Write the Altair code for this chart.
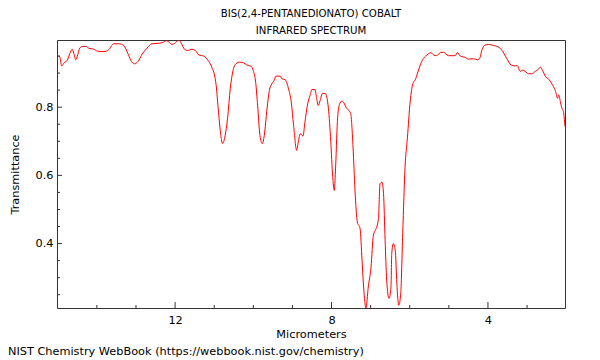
import altair as alt
import pandas as pd

# ---- data ----
wavelength_um = [
    15.02, 14.95, 14.90, 14.83, 14.76, 14.69, 14.63, 14.59, 14.54, 14.49,
    14.44, 14.37, 14.27, 14.21, 14.08, 13.98, 13.82, 13.70, 13.57, 13.44,
    13.31, 13.21, 13.13, 13.04, 12.95, 12.84, 12.72, 12.59, 12.46, 12.33,
    12.22, 12.16, 12.08, 11.99, 11.91, 11.85, 11.76, 11.68, 11.57, 11.48,
    11.39, 11.27, 11.14, 11.10, 11.05, 11.00, 10.95, 10.89, 10.83, 10.79,
    10.72, 10.66, 10.59, 10.52, 10.47, 10.36, 10.25, 10.17, 10.06, 10.00,
    9.94, 9.89, 9.83, 9.77, 9.72, 9.65, 9.59, 9.53, 9.47, 9.42,
    9.31, 9.27, 9.19, 9.10, 9.03, 8.97, 8.89, 8.85, 8.80, 8.73,
    8.68, 8.61, 8.55, 8.50, 8.42, 8.38, 8.34, 8.29, 8.23, 8.16,
    8.08, 8.02, 7.97, 7.93, 7.90, 7.85, 7.80, 7.74, 7.68, 7.63,
    7.57, 7.51, 7.45, 7.40, 7.34, 7.27, 7.22, 7.18, 7.12, 7.06,
    6.99, 6.93, 6.86, 6.80, 6.76, 6.71, 6.67, 6.63, 6.59, 6.53,
    6.48, 6.46, 6.42, 6.37, 6.33, 6.28, 6.23, 6.18, 6.12, 6.06,
    5.99, 5.92, 5.86, 5.80, 5.73, 5.65, 5.56, 5.46, 5.39, 5.31,
    5.22, 5.14, 5.01, 4.84, 4.78, 4.71, 4.58, 4.50, 4.37, 4.27,
    4.20, 4.16, 4.07, 3.99, 3.86, 3.71, 3.62, 3.52, 3.41, 3.30,
    3.25, 3.18, 3.11, 3.05, 2.96, 2.88, 2.79, 2.73, 2.66, 2.60,
    2.54, 2.43, 2.34, 2.27, 2.22, 2.19, 2.15, 2.11, 2.07, 2.03,
]
transmittance = [
    0.950, 0.948, 0.921, 0.931, 0.937, 0.958, 0.970, 0.958, 0.939, 0.953,
    0.973, 0.978, 0.978, 0.973, 0.970, 0.964, 0.963, 0.968, 0.986, 0.986,
    0.980, 0.958, 0.937, 0.927, 0.934, 0.956, 0.973, 0.986, 0.987, 0.989,
    0.995, 0.991, 0.984, 0.989, 0.997, 0.989, 0.970, 0.966, 0.970, 0.966,
    0.953, 0.950, 0.934, 0.927, 0.914, 0.898, 0.864, 0.785, 0.717, 0.693,
    0.717, 0.766, 0.854, 0.907, 0.924, 0.932, 0.930, 0.924, 0.920, 0.907,
    0.873, 0.805, 0.717, 0.693, 0.717, 0.795, 0.849, 0.868, 0.878, 0.891,
    0.891, 0.883, 0.881, 0.854, 0.815, 0.746, 0.673, 0.698, 0.722, 0.715,
    0.756, 0.810, 0.834, 0.852, 0.851, 0.825, 0.805, 0.820, 0.841, 0.840,
    0.797, 0.700, 0.597, 0.556, 0.612, 0.758, 0.807, 0.818, 0.812, 0.800,
    0.792, 0.781, 0.683, 0.556, 0.463, 0.444, 0.351, 0.273, 0.211, 0.273,
    0.331, 0.424, 0.444, 0.473, 0.576, 0.580, 0.546, 0.410, 0.293, 0.239,
    0.273, 0.371, 0.400, 0.380, 0.283, 0.219, 0.254, 0.429, 0.624, 0.710,
    0.815, 0.869, 0.880, 0.900, 0.924, 0.943, 0.953, 0.960, 0.953, 0.951,
    0.960, 0.961, 0.951, 0.951, 0.960, 0.950, 0.946, 0.941, 0.942, 0.939,
    0.946, 0.966, 0.982, 0.984, 0.981, 0.975, 0.963, 0.943, 0.924, 0.921,
    0.922, 0.905, 0.909, 0.905, 0.898, 0.898, 0.905, 0.909, 0.917, 0.907,
    0.892, 0.880, 0.863, 0.846, 0.826, 0.836, 0.817, 0.797, 0.787, 0.743,
]
x_major = [12, 8, 4]
x_minor = [14, 13, 11, 10, 9, 7, 6, 5, 3]
y_major = [0.4, 0.6, 0.8]
y_minor = [0.25, 0.3, 0.35, 0.45, 0.5, 0.55, 0.65, 0.7, 0.75, 0.85, 0.9, 0.95]
title_lines = ["BIS(2,4-PENTANEDIONATO) COBALT", "INFRARED SPECTRUM"]
x_title = "Micrometers"
y_title = "Transmittance"
footer = ["NIST Chemistry WebBook (https://webbook.nist.gov/chemistry)"]

W, H = 508, 268
FONT = "DejaVu Sans"
FS = 11.3
AX = "#333333"

xs = alt.Scale(domain=[2.03, 15.02], reverse=True, nice=False, zero=False)
ys = alt.Scale(domain=[0.211, 0.997], nice=False, zero=False)

x_axis = alt.Axis(
    values=x_major, ticks=False, domain=False, grid=False,
    labelFont=FONT, labelFontSize=FS, labelColor="black",
    labelBaseline="alphabetic", labelPadding=15,
    title=x_title, titleFont=FONT, titleFontSize=FS, titleFontWeight="normal",
    titleColor="black", titleBaseline="alphabetic", titleY=29)
y_axis = alt.Axis(
    values=y_major, ticks=False, domain=False, grid=False, format=".1f",
    labelFont=FONT, labelFontSize=FS, labelColor="black", labelPadding=4,
    title=y_title, titleFont=FONT, titleFontSize=FS, titleFontWeight="normal",
    titleColor="black", titleBaseline="alphabetic", titleX=-39)

spec = pd.DataFrame({"um": wavelength_um, "T": transmittance})

line = alt.Chart(spec).mark_line(color="#ff0000", strokeWidth=1, clip=True,
                                 interpolate="monotone").encode(
    x=alt.X("um:Q", scale=xs, axis=x_axis),
    y=alt.Y("T:Q", scale=ys, axis=y_axis),
)

def xticks(vals, length):
    d = pd.DataFrame({"um": vals})
    return alt.Chart(d).mark_rule(color=AX, strokeWidth=1).encode(
        x=alt.X("um:Q", scale=xs, axis=x_axis),
        y=alt.value(H), y2=alt.value(H - length))

def yticks(vals, length):
    d = pd.DataFrame({"T": vals})
    return alt.Chart(d).mark_rule(color=AX, strokeWidth=1).encode(
        y=alt.Y("T:Q", scale=ys, axis=y_axis),
        x=alt.value(0), x2=alt.value(length))

foot = alt.Chart(pd.DataFrame({"t": footer})).mark_text(
    align="left", baseline="middle", font=FONT, fontSize=FS, color="black"
).encode(x=alt.value(-49), y=alt.value(H + 44), text="t:N")

chart = alt.layer(
    line, xticks(x_major, 6), xticks(x_minor, 3), yticks(y_major, 5), yticks(y_minor, 3), foot
).properties(
    width=W, height=H,
    title=alt.TitleParams(text=title_lines, font=FONT, fontSize=10.2, fontWeight="normal",
                          color="black", anchor="middle", lineHeight=16.7, offset=4),
    autosize=alt.AutoSizeParams(type="none"),
    padding={"left": 49, "top": 32, "right": 20, "bottom": 56},
).configure_view(stroke=AX, strokeWidth=1)

chart.save("out.html", embed_options={"renderer": "svg", "actions": False})
